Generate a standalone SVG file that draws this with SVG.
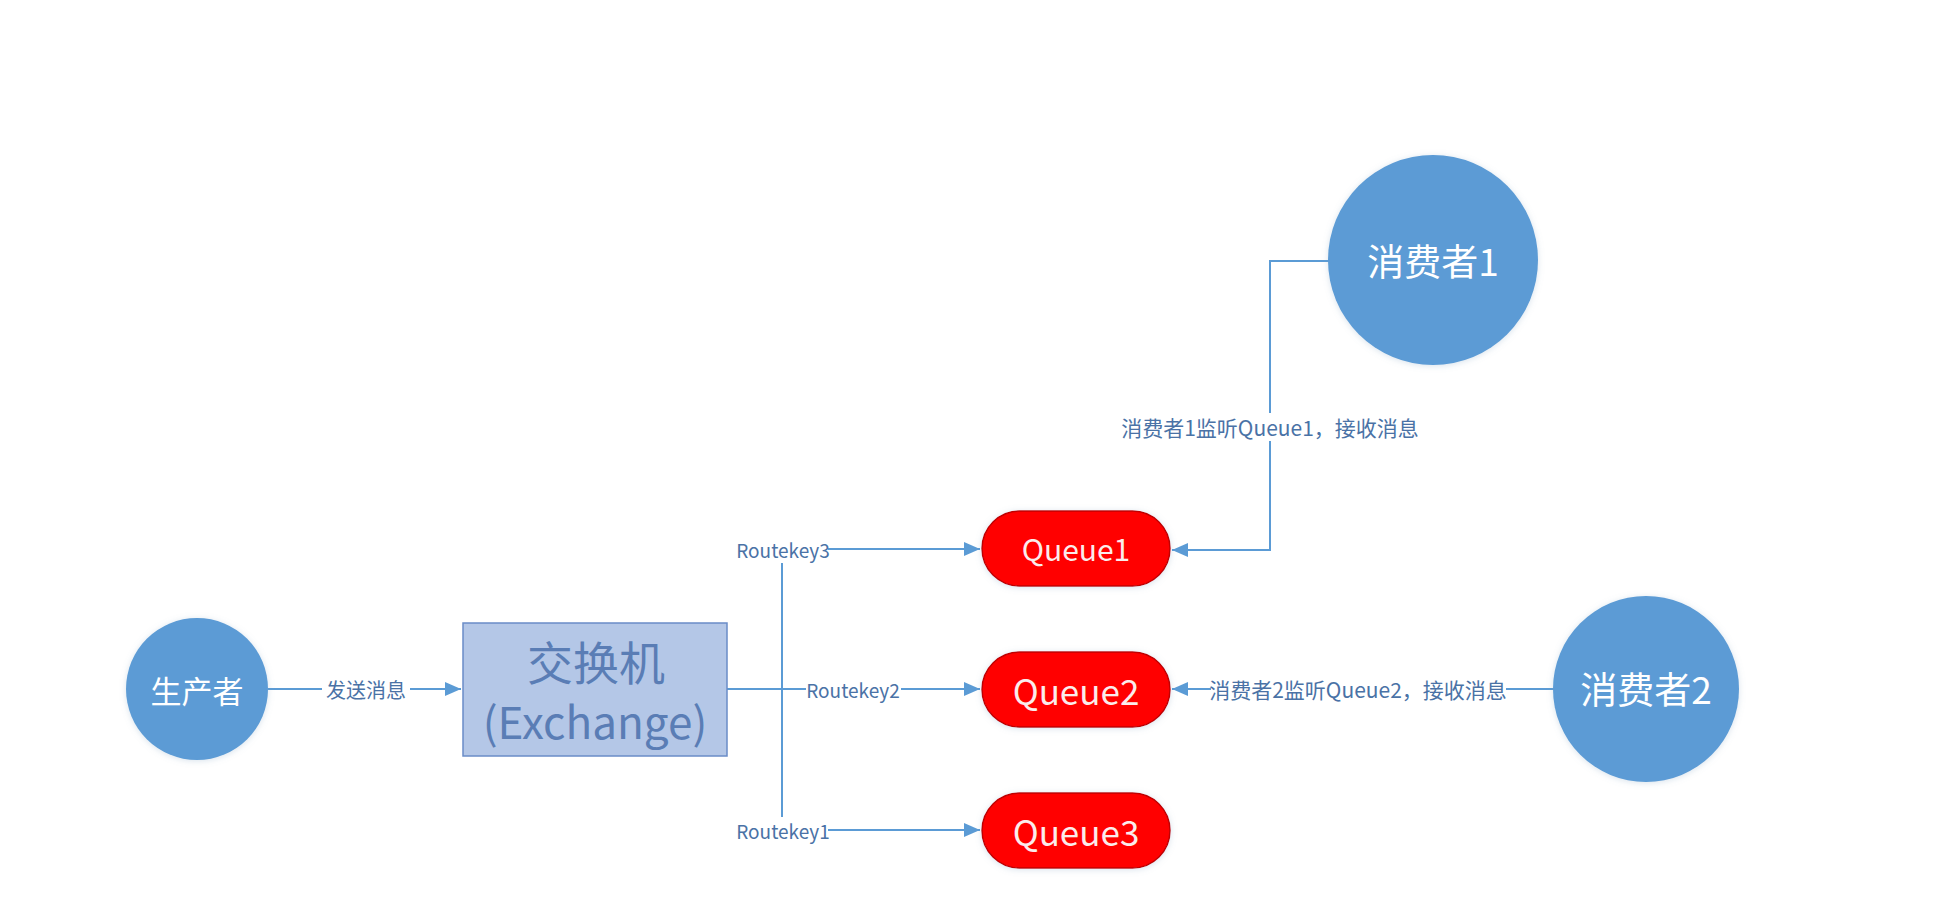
<svg xmlns="http://www.w3.org/2000/svg" width="1951" height="909" viewBox="0 0 1951 909">
<style>
.bg{fill:#ffffff}
.circ{fill:#5b9bd5;filter:url(#sh)}
.queue{fill:#ff0000;stroke:#c00000;stroke-width:1.5;filter:url(#sh)}
.exch{fill:#b4c7e7;stroke:#6a8cc7;stroke-width:1.5}
.conn{fill:none;stroke:#5b9bd5;stroke-width:2}
text{font-family:"Noto Sans CJK SC","Noto Sans",sans-serif;text-anchor:middle;dominant-baseline:central}
.wt{fill:#ffffff}
.lbl{fill:#4a72a6;font-size:21px}
.rk{fill:#4a72a6;font-size:19px}
.ex{fill:#5a7db5}
.qt{fill:#fbecec}
.lb{fill:#ffffff}
</style>
<defs>
<marker id="arr" markerUnits="userSpaceOnUse" markerWidth="17" markerHeight="15" refX="16" refY="7" orient="auto">
<path d="M0,0 L16,7 L0,14 z" fill="#5b9bd5"/>
</marker>
<filter id="sh" x="-20%" y="-20%" width="140%" height="140%">
<feDropShadow dx="0" dy="1" stdDeviation="3" flood-color="#7f9fc0" flood-opacity="0.3"/>
</filter>
</defs>
<rect class="bg" x="0" y="0" width="1951" height="909"/>

<g id="connectors">
<path class="conn" d="M268,689 H461" marker-end="url(#arr)"/>
<path class="conn" d="M727,689 H782"/>
<path class="conn" d="M782,563 V817"/>
<path class="conn" d="M828,549 H980" marker-end="url(#arr)"/>
<path class="conn" d="M782,689 H980" marker-end="url(#arr)"/>
<path class="conn" d="M828,830 H980" marker-end="url(#arr)"/>
<path class="conn" d="M1329,261 H1270 V550 H1172" marker-end="url(#arr)"/>
<path class="conn" d="M1554,689 H1172" marker-end="url(#arr)"/>
<rect class="lb" x="322" y="676" width="88" height="26"/>
<text class="lbl" x="366" y="689" style="font-size:20px">发送消息</text>
<text class="rk" x="783" y="549">Routekey3</text>
<rect class="lb" x="806" y="677" width="95" height="24"/>
<text class="rk" x="853" y="689">Routekey2</text>
<text class="rk" x="783" y="830">Routekey1</text>
<rect class="lb" x="1123" y="413" width="294" height="28"/>
<text class="lbl" x="1270" y="427">消费者1监听Queue1，接收消息</text>
<rect class="lb" x="1211" y="675" width="295" height="28"/>
<text class="lbl" x="1358" y="689">消费者2监听Queue2，接收消息</text>
</g>

<g id="producer">
<circle class="circ" cx="197" cy="689" r="71"/>
<text class="wt" x="197" y="689" style="font-size:31px">生产者</text>
</g>

<g id="exchange">
<rect class="exch" x="463" y="623" width="264" height="133"/>
<text class="ex" x="596" y="660" style="font-size:46px">交换机</text>
<text class="ex" x="595" y="720" style="font-size:44px">(Exchange)</text>
</g>

<g id="queue1">
<rect class="queue" x="982" y="511" width="188" height="75" rx="37.5"/>
<text class="qt" x="1076" y="548" style="font-size:30px">Queue1</text>
</g>

<g id="queue2">
<rect class="queue" x="982" y="652" width="188" height="75" rx="37.5"/>
<text class="qt" x="1076" y="689" style="font-size:35px">Queue2</text>
</g>

<g id="queue3">
<rect class="queue" x="982" y="793" width="188" height="75" rx="37.5"/>
<text class="qt" x="1076" y="830" style="font-size:35px">Queue3</text>
</g>

<g id="consumer1">
<circle class="circ" cx="1433" cy="260" r="105"/>
<text class="wt" x="1433" y="260" style="font-size:37px">消费者1</text>
</g>

<g id="consumer2">
<circle class="circ" cx="1646" cy="689" r="93"/>
<text class="wt" x="1646" y="688" style="font-size:37px">消费者2</text>
</g>
</svg>
